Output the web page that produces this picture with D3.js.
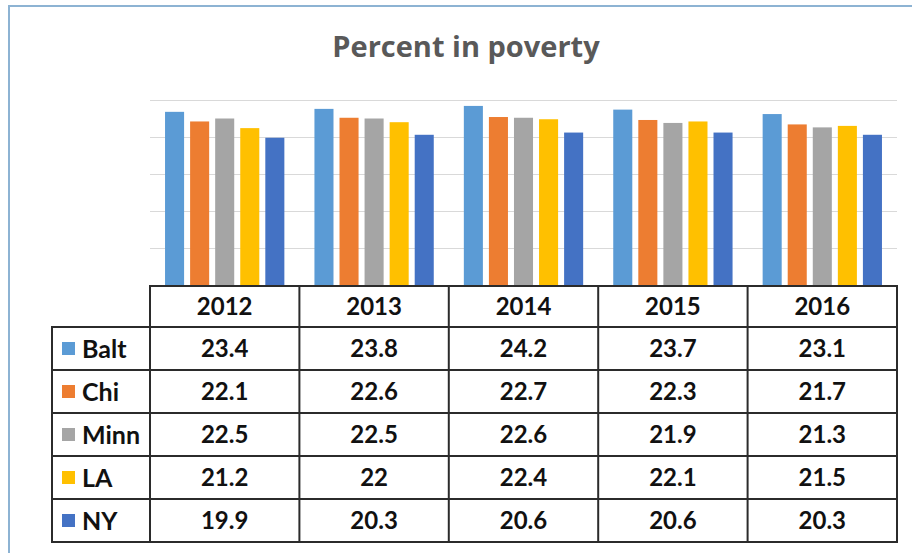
<!DOCTYPE html>
<html>
<head>
<meta charset="utf-8">
<script src="https://cdn.jsdelivr.net/npm/d3@7"></script>
<style>
  html, body { margin: 0; padding: 0; background: #ffffff; }
  svg { display: block; }
  text { font-family: Lato, "Open Sans", sans-serif; }
</style>
</head>
<body>
<svg id="chart" width="912" height="553"></svg>
<script>
// Poverty rates by city and year
const years = ["2012", "2013", "2014", "2015", "2016"];
const cities = ["Balt", "Chi", "Minn", "LA", "NY"];
const balt = [23.4, 23.8, 24.2, 23.7, 23.1];
const chi  = [22.1, 22.6, 22.7, 22.3, 21.7];
const minn = [22.5, 22.5, 22.6, 21.9, 21.3];
const la   = [21.2, 22,   22.4, 22.1, 21.5];
const ny   = [19.9, 20.3, 20.6, 20.6, 20.3];
const seriesColors = ["#5B9BD5", "#ED7D31", "#A5A5A5", "#FFC000", "#4472C4"];
const gridTicks = [5, 10, 15, 20, 25];

const seriesValues = [balt, chi, minn, la, ny];
const series = cities.map((c, i) => ({ name: c, values: seriesValues[i], color: seriesColors[i] }));

const svg = d3.select("#chart");

// outer frame
svg.append("path")
  .attr("d", "M9,553 V6 H912")
  .attr("fill", "none")
  .attr("stroke", "#8db3d3")
  .attr("stroke-width", 2);

// title
svg.append("text")
  .attr("x", 466)
  .attr("y", 57)
  .attr("text-anchor", "middle")
  .style("font-family", "'Open Sans', Lato, sans-serif")
  .attr("font-size", 29)
  .attr("font-weight", 700)
  .attr("fill", "#595959")
  .text("Percent in poverty");

// scales
const plotLeft = 150, plotRight = 897;
const baseY = 285, topY = 100;

const x0 = d3.scaleBand().domain(years).range([plotLeft, plotRight]).paddingInner(0).paddingOuter(0);
const x1 = d3.scaleBand().domain(cities).range([0, x0.bandwidth()]).paddingInner(0.24).paddingOuter(0.6);
const y = d3.scaleLinear().domain([0, 25]).range([baseY, topY]);

// gridlines
const grid = svg.append("g")
  .attr("transform", `translate(${plotLeft},0)`)
  .call(d3.axisLeft(y).tickValues(gridTicks).tickSize(-(plotRight - plotLeft)).tickFormat(""));
grid.select(".domain").remove();
grid.selectAll(".tick line").attr("stroke", "#d9d9d9").attr("stroke-width", 1.2);

// bars
const groups = svg.append("g").selectAll("g")
  .data(years)
  .join("g")
  .attr("transform", d => `translate(${x0(d)},0)`);

groups.selectAll("rect")
  .data((yr, yi) => series.map(s => ({ name: s.name, value: s.values[yi], color: s.color })))
  .join("rect")
  .attr("x", d => x1(d.name))
  .attr("y", d => y(d.value))
  .attr("width", x1.bandwidth())
  .attr("height", d => y(0) - y(d.value))
  .attr("fill", d => d.color);

// data table
const tableTop = 286, headerH = 41, rowH = 43;
const legendLeft = 52;
const rowY = d3.scaleBand().domain(cities).range([tableTop + headerH, tableTop + headerH + rowH * cities.length]);
const tableBottom = rowY.range()[1];
const lineColor = "#2b2b2b";
const lineW = 2;

const table = svg.append("g");

// header row
table.selectAll("text.year")
  .data(years)
  .join("text")
  .attr("class", "year")
  .attr("x", d => x0(d) + x0.bandwidth() / 2)
  .attr("y", tableTop + headerH / 2)
  .attr("dy", "0.34em")
  .attr("text-anchor", "middle")
  .attr("font-size", 24)
  .attr("font-weight", 700)
  .attr("fill", "#111")
  .text(d => d);

// legend column
const legendRows = table.selectAll("g.legend")
  .data(series)
  .join("g")
  .attr("class", "legend")
  .attr("transform", d => `translate(0,${rowY(d.name)})`);

legendRows.append("rect")
  .attr("x", 62)
  .attr("y", rowH / 2 - 6.5)
  .attr("width", 13)
  .attr("height", 13)
  .attr("fill", d => d.color);

legendRows.append("text")
  .attr("x", 82)
  .attr("y", rowH / 2)
  .attr("dy", "0.36em")
  .attr("font-size", 25)
  .attr("font-weight", 700)
  .attr("fill", "#111")
  .text(d => d.name);

// value cells
legendRows.selectAll("text.val")
  .data(d => d.values.map((v, i) => ({ year: years[i], value: v })))
  .join("text")
  .attr("class", "val")
  .attr("x", d => x0(d.year) + x0.bandwidth() / 2)
  .attr("y", rowH / 2)
  .attr("dy", "0.36em")
  .attr("text-anchor", "middle")
  .attr("font-size", 24)
  .attr("font-weight", 700)
  .attr("fill", "#111")
  .text(d => String(d.value));

// table lines
const hLines = [];
hLines.push([plotLeft, plotRight, tableTop]);
cities.forEach(c => hLines.push([legendLeft, plotRight, rowY(c)]));
hLines.push([legendLeft, plotRight, tableBottom]);

table.selectAll("line.h")
  .data(hLines)
  .join("line")
  .attr("class", "h")
  .attr("x1", d => d[0]).attr("x2", d => d[1])
  .attr("y1", d => d[2]).attr("y2", d => d[2])
  .attr("stroke", lineColor).attr("stroke-width", lineW);

const vLines = [[legendLeft, tableTop + headerH]];
years.forEach(yr => vLines.push([x0(yr), tableTop]));
vLines.push([plotRight, tableTop]);

table.selectAll("line.v")
  .data(vLines)
  .join("line")
  .attr("class", "v")
  .attr("x1", d => d[0]).attr("x2", d => d[0])
  .attr("y1", d => d[1] - lineW / 2).attr("y2", tableBottom + lineW / 2)
  .attr("stroke", lineColor).attr("stroke-width", lineW);
</script>
</body>
</html>
